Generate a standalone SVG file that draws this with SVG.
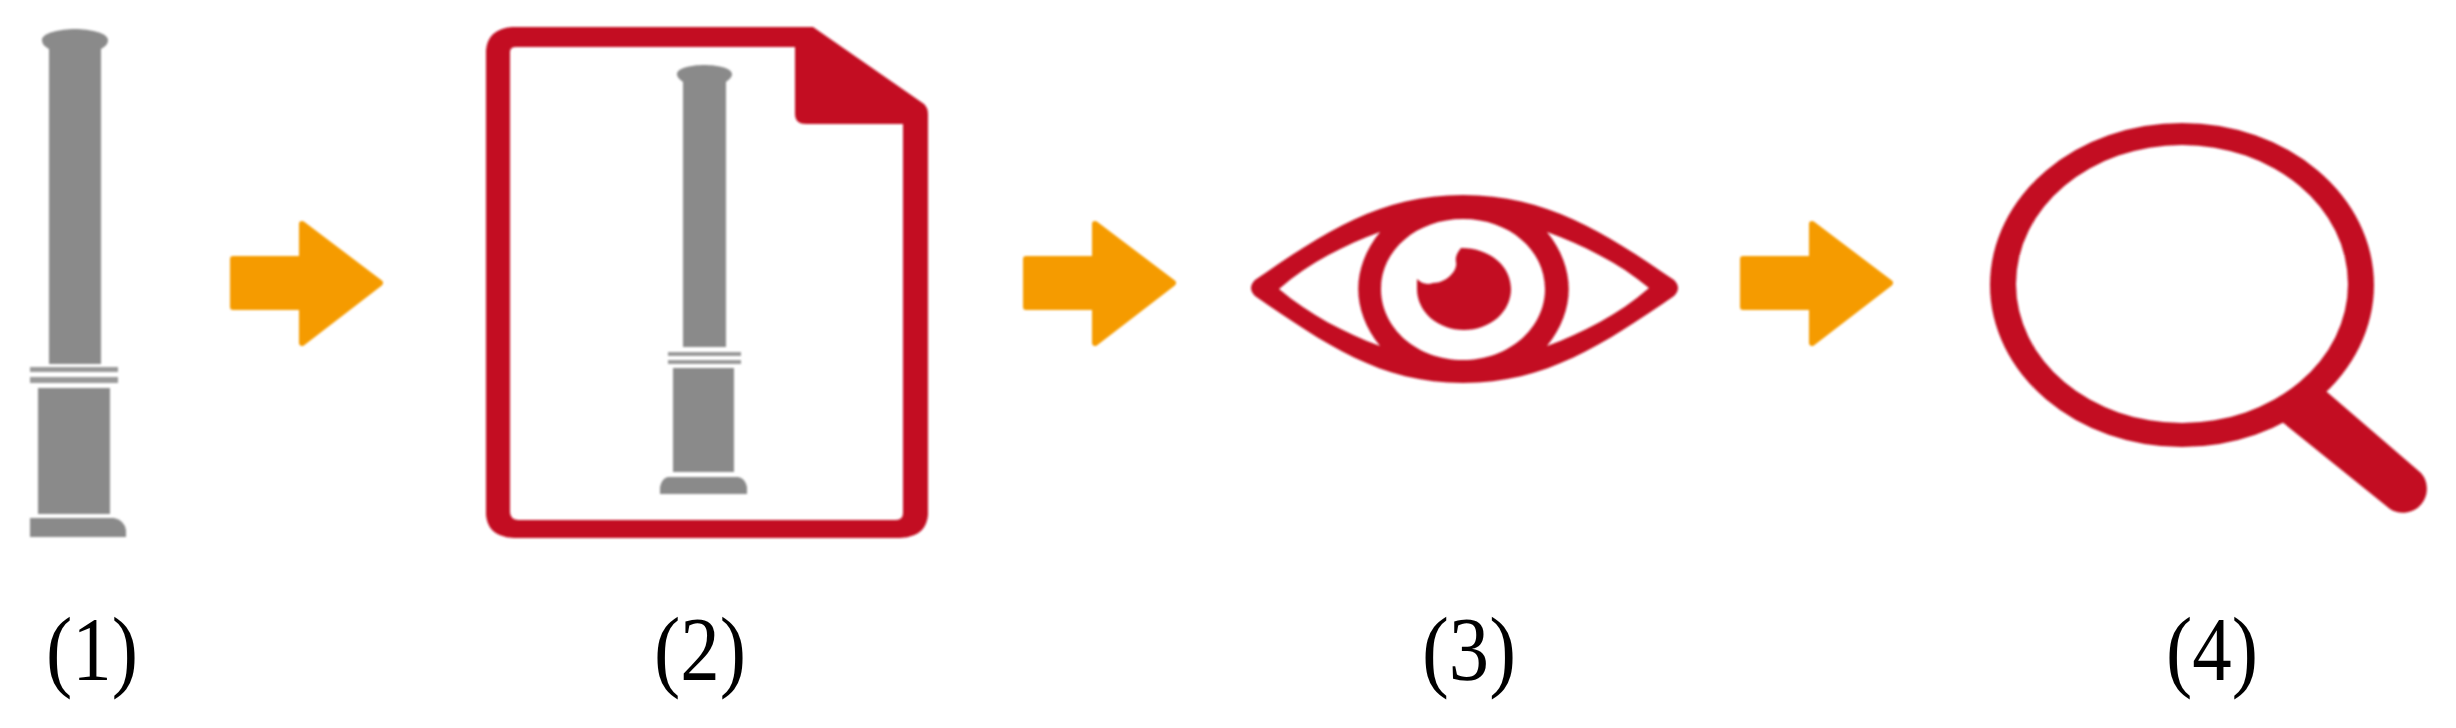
<svg xmlns="http://www.w3.org/2000/svg" width="2456" height="728" viewBox="0 0 2456 728">
<style>
.g{fill:#8a8a8a}
.b{fill:#9a9a9a}
.r{fill:#c30f24}
.a{fill:#f59b00;stroke:#f59b00;stroke-width:6;stroke-linejoin:round}
.t{font-family:"Liberation Serif","Times New Roman",serif;font-size:92px;fill:#000}
</style>
<defs>
<filter id="soft" x="-5%" y="-5%" width="110%" height="110%"><feGaussianBlur stdDeviation="0.9"/></filter>
<polygon id="arrow" points="3,38 72,38 72,3 150,62 72,122 72,86 3,86"/>
</defs>
<rect width="2456" height="728" fill="#fff"/>
<g id="connectors" filter="url(#soft)">
<use href="#arrow" class="a" x="230" y="221"/>
<use href="#arrow" class="a" x="1023" y="221"/>
<use href="#arrow" class="a" x="1740" y="221"/>
</g>
<g id="node-1">
<g filter="url(#soft)">
<path class="g" d="M42 40C42 33 60 29 75 29C90 29 108 33 108 40C108 45 104 47 101 49V364H49V49C46 47 42 45 42 40Z"/>
<rect class="b" x="30" y="367" width="88" height="5"/>
<rect class="b" x="30" y="377" width="88" height="6"/>
<rect class="g" x="38" y="388" width="72" height="126"/>
<path class="g" d="M30 518H114Q124 520 126 530V537H30Z"/>
</g>
<text class="t" x="46" y="680" textLength="92" lengthAdjust="spacingAndGlyphs">(1)</text>
</g>
<g id="node-2">
<g filter="url(#soft)">
<path class="r" fill-rule="evenodd" d="M512 27H813L924 104Q928 108 928 114V515Q926 537 900 538H514Q488 537 486 515V50Q488 29 512 27ZM516 47Q510 47 510 52V512Q510 519 518 520H896Q903 520 903 513V124H806Q795 124 795 114V47Z"/>
<path class="g" d="M677 74C677 68 692 65 704 65C717 65 732 68 732 74C732 78 728 80 726 82V347H683V82C681 80 677 78 677 74Z"/>
<rect class="b" x="668" y="352" width="73" height="4"/>
<rect class="b" x="668" y="360" width="73" height="4"/>
<rect class="g" x="673" y="368" width="61" height="104"/>
<path class="g" d="M668 477H738Q745 478 747 487V494H660V487Q662 478 668 477Z"/>
</g>
<text class="t" x="654" y="680" textLength="92" lengthAdjust="spacingAndGlyphs">(2)</text>
</g>
<g id="node-3">
<g filter="url(#soft)">
<path class="r" fill-rule="evenodd" d="M1463 195C1546 195 1604 232 1674 280Q1682 288 1674 296C1604 344 1546 383 1463 383C1380 383 1325 344 1255 296Q1247 288 1255 280C1325 232 1380 195 1463 195ZM1380 232C1345 245 1310 262 1279 289C1310 315 1345 333 1380 346C1351 310 1351 268 1380 232ZM1547 232C1576 268 1576 310 1547 346C1582 333 1618 315 1649 288C1618 262 1582 245 1547 232ZM1463 219C1417 219 1381 250 1381 289C1381 328 1417 360 1463 360C1509 360 1545 328 1545 289C1545 250 1509 219 1463 219Z"/>
<path class="r" d="M1461 248C1490 248 1511 266 1511 289C1511 312 1490 330 1464 330C1438 330 1417 312 1417 289V279Q1424 286 1433 283C1447 283 1458 270 1456 262C1455 256 1458 252 1461 248Z"/>
</g>
<text class="t" x="1422" y="680" textLength="94" lengthAdjust="spacingAndGlyphs">(3)</text>
</g>
<g id="node-4">
<g filter="url(#soft)">
<path class="r" fill-rule="evenodd" d="M1990 285a192 162 0 1 0 384 0a192 162 0 1 0 -384 0ZM2016 284a166 139 0 1 1 332 0a166 139 0 1 1 -332 0Z"/>
<path class="r" d="M2320 386L2421 473A24 24 0 0 1 2390 509L2276 417Z"/>
</g>
<text class="t" x="2166" y="680" textLength="92" lengthAdjust="spacingAndGlyphs">(4)</text>
</g>
</svg>
